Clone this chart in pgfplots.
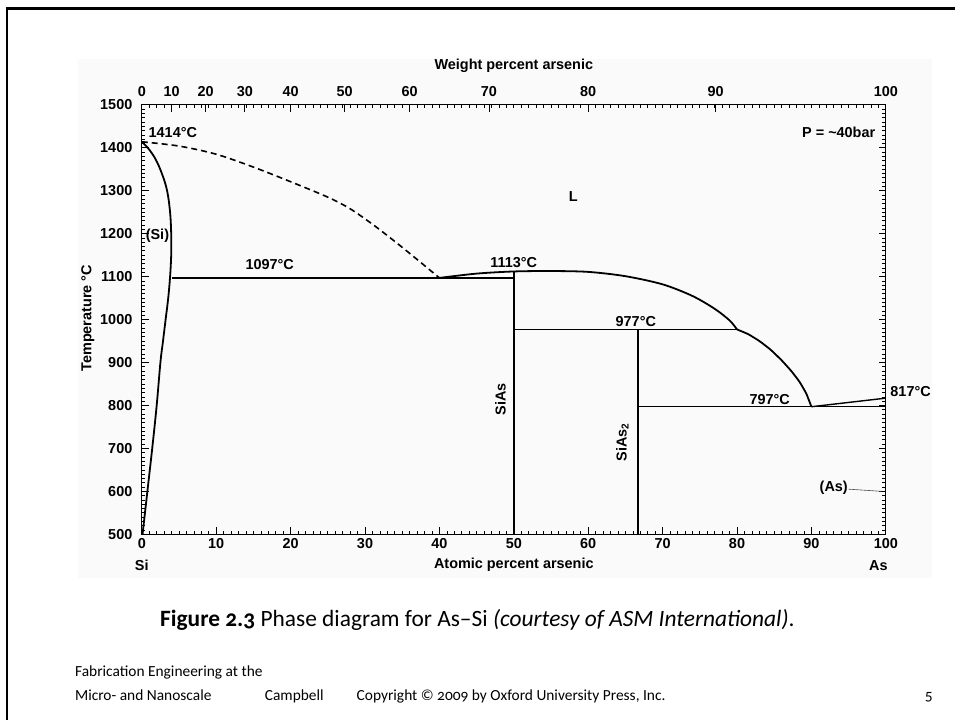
\documentclass[border=0pt]{standalone}
\usepackage{fontspec}
\setmainfont{Liberation Sans}
\newfontfamily\capfont[Numbers=OldStyle]{Carlito}
\usepackage{pgfplots}
\pgfplotsset{compat=1.18}
\begin{document}
\begin{tikzpicture}[x=1bp,y=1bp]
% page
\path[fill=white] (0,0) rectangle (956,721);
\fill[black!2] (78,662) rectangle (933,142);
\draw[line width=2.6bp] (7,0) -- (7,712.5) -- (956,712.5);
\begin{axis}[
  scale only axis, width=745bp, height=430bp,
  at={(142bp,186bp)}, anchor=south west,
  xmin=0, xmax=100, ymin=500, ymax=1500,
  xtick={0,10,...,100}, ytick={500,600,...,1500},
  minor x tick num=9, minor y tick num=9,
  xtick pos=bottom, ytick pos=both,
  tick align=inside,
  major tick length=7bp, minor tick length=3.5bp,
  axis line style={line width=1.3bp},
  every tick/.style={line width=0.7bp, black},
  /pgf/number format/assume math mode=true,
  /pgf/number format/1000 sep={},
  ticklabel style={font=\bfseries\fontsize{14.5}{15}\selectfont},
  yticklabel style={xshift=-6bp},
  xticklabel style={yshift=-1bp},
  clip=false,
  every axis plot/.append style={black, line width=1.8bp},
]
% (Si) solidus
\addplot[smooth, tension=0.6] coordinates {(0,1414) (0.8,1400) (1.8,1375) (2.7,1340) (3.4,1300) (3.8,1250) (3.95,1200) (3.95,1150) (3.8,1100) (3.55,1050) (3.2,1000) (2.85,950) (2.5,900) (2.0,800) (1.4,700) (0.75,600) (0.1,500)};
% metastable liquidus (dashed)
\addplot[smooth, dashed, dash pattern=on 6bp off 4bp, line width=1.6bp] coordinates {(0,1414) (5,1404) (10,1385) (15,1355) (20,1321) (25,1285) (28,1258) (31,1222) (34,1182) (37,1140) (40,1097)};
% SiAs liquidus
\addplot[smooth, tension=0.5] coordinates {(40,1097) (45,1107) (50,1112) (55,1113) (60,1111) (65,1101) (70,1082) (74,1055) (77,1025) (79,998) (80,977)};
% SiAs2 liquidus
\addplot[smooth, tension=0.3] coordinates {(80,977) (81.5,966) (83,950) (84.5,930) (86,905) (87.3,880) (88.4,855) (89.3,828) (90,797)};
\addplot[line width=1.4bp] coordinates {(90,797) (100,817)};
% tie lines and compounds
\addplot[line width=1.4bp] coordinates {(4,1097) (50,1097)};
\addplot[line width=1.4bp] coordinates {(50,977) (80,977)};
\addplot[line width=1.4bp] coordinates {(66.7,797) (100,797)};
\addplot[line width=1.5bp] coordinates {(50,500) (50,1113)};
\addplot[line width=1.5bp] coordinates {(66.7,500) (66.7,977)};
% (As) leader
\addplot[line width=0.6bp, black!70] coordinates {(95.0,605) (99.4,600)};
% labels
\begin{scope}[every node/.style={font=\bfseries\fontsize{14.5}{15}\selectfont, inner sep=0pt}]
\node[anchor=west] at (axis cs:0.9,1435) {1414°C};
\node[anchor=east] at (axis cs:98.6,1435) {P = \textasciitilde 40bar};
\node at (axis cs:58,1286) {L};
\node at (axis cs:2.1,1195) {(Si)};
\node at (axis cs:17.2,1128) {1097°C};
\node at (axis cs:50,1132) {1113°C};
\node at (axis cs:66.4,995) {977°C};
\node at (axis cs:84.4,814) {797°C};
\node[anchor=west] at (axis cs:100.6,833) {817°C};
\node[rotate=90] at (axis cs:48.2,814) {SiAs};
\node[rotate=90] at (axis cs:64.6,714) {SiAs$_{\mathbf{2}}$};
\node at (axis cs:93.0,609) {(As)};
\node at (axis cs:0,428) {Si};
\node at (axis cs:50,428) {Atomic percent arsenic};
\node at (axis cs:99,428) {As};
\node at (axis cs:50,1590) {Weight percent arsenic};
\node[rotate=90] at (axis cs:-7.25,1003) {Temperature °C};
\end{scope}
\end{axis}
% top axis: weight percent
\begin{axis}[
  scale only axis, width=745bp, height=430bp,
  at={(142bp,186bp)}, anchor=south west,
  xmin=0, xmax=100, ymin=500, ymax=1500,
  axis x line*=top, axis y line=none,
  xtick={0,4.0,8.57,13.84,20.0,27.26,36.0,46.66,59.99,77.14,100},
  xticklabels={0,10,20,30,40,50,60,70,80,90,100},
  minor xtick={1,2,...,99},
  tick align=inside,
  major tick length=7bp, minor tick length=3.5bp,
  axis line style={line width=1.3bp},
  every tick/.style={line width=0.7bp, black},
  ticklabel style={font=\bfseries\fontsize{14.5}{15}\selectfont},
  xticklabel style={yshift=5bp},
]
\addplot[draw=none] coordinates {(0,500) (100,1500)};
\end{axis}
% caption and footer
\node[font=\capfont\fontsize{23.5}{26}\selectfont, anchor=center] at (478,100)
  {\textbf{Figure 2.3} Phase diagram for As–Si \textit{(courtesy of ASM International)}.};
\begin{scope}[every node/.style={font=\capfont\fontsize{15.5}{17}\selectfont, inner sep=0pt, anchor=base west}]
\node at (75,44) {Fabrication Engineering at the};
\node at (75,20) {Micro- and Nanoscale};
\node at (265,20) {Campbell};
\node at (357,20) {Copyright © 2009 by Oxford University Press, Inc.};
\node at (926,20) {5};
\end{scope}
\end{tikzpicture}
\end{document}
